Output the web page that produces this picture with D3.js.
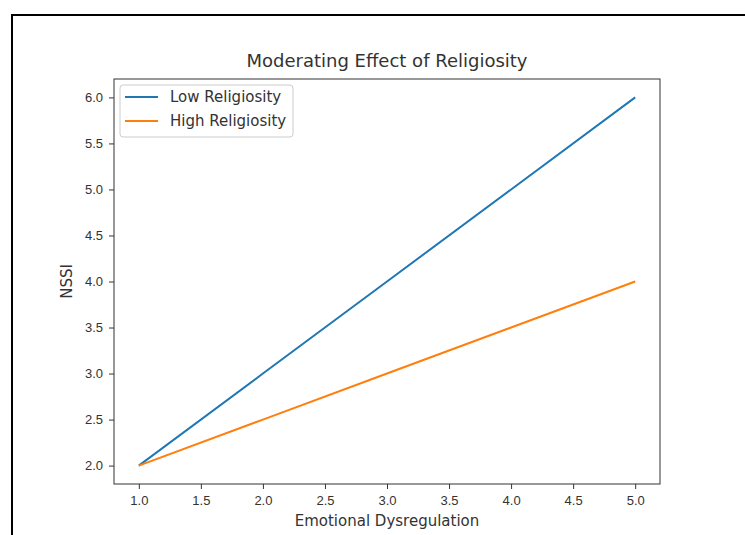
<!DOCTYPE html>
<html>
<head>
<meta charset="utf-8">
<script src="https://cdn.jsdelivr.net/npm/d3@7"></script>
<style>
  body { margin: 0; background: #fff; }
  svg { font-family: 'DejaVu Sans', sans-serif; display: block; }
  .tick text { font-size: 13px; fill: #333; }
  .tick line, .domain { stroke: #333; }
</style>
</head>
<body>
<svg width="745" height="535"></svg>
<script>
'use strict';

// chart values
const emotionalDysregulation = [1, 2, 3, 4, 5];
const lowReligiosity = [2, 3, 4, 5, 6];
const highReligiosity = [2, 2.5, 3, 3.5, 4];
const seriesNames = ['Low Religiosity', 'High Religiosity'];
const seriesColors = ['#1f77b4', '#ff7f0e'];
const xTicks = [1.0, 1.5, 2.0, 2.5, 3.0, 3.5, 4.0, 4.5, 5.0];
const yTicks = [2.0, 2.5, 3.0, 3.5, 4.0, 4.5, 5.0, 5.5, 6.0];

const svg = d3.select('svg');
const width = +svg.attr('width');
const height = +svg.attr('height');

// figure frame
svg.append('path')
    .attr('d', `M12,${height} V15 H${width}`)
    .attr('fill', 'none')
    .attr('stroke', '#000')
    .attr('stroke-width', 2);

const margin = { top: 79, right: 85, bottom: 51, left: 114 };
const innerWidth = width - margin.left - margin.right;
const innerHeight = height - margin.top - margin.bottom;

const xScale = d3.scaleLinear()
  .domain([0.8, 5.2])
  .range([0, innerWidth]);

const yScale = d3.scaleLinear()
  .domain([1.8, 6.2])
  .range([innerHeight, 0]);

const g = svg.append('g')
  .attr('transform', `translate(${margin.left},${margin.top})`);

const xAxisG = g.append('g')
  .attr('transform', `translate(0,${innerHeight})`)
  .call(d3.axisBottom(xScale).tickValues(xTicks).tickFormat(d3.format('.1f')).tickSize(5).tickPadding(7));
xAxisG.select('.domain').remove();

const yAxisG = g.append('g')
  .call(d3.axisLeft(yScale).tickValues(yTicks).tickFormat(d3.format('.1f')).tickSize(5).tickPadding(6));
yAxisG.select('.domain').remove();

const series = [lowReligiosity, highReligiosity];

const line = d3.line()
  .x((d, i) => xScale(emotionalDysregulation[i]))
  .y(d => yScale(d));

series.forEach((values, k) => {
  g.append('path')
      .datum(values)
      .attr('fill', 'none')
      .attr('stroke', seriesColors[k])
      .attr('stroke-width', 2)
      .attr('d', line);
});

// spines
g.append('rect')
    .attr('width', innerWidth)
    .attr('height', innerHeight)
    .attr('fill', 'none')
    .attr('stroke', '#333')
    .attr('stroke-width', 1);

// title and labels
g.append('text')
    .attr('x', innerWidth / 2)
    .attr('y', -12)
    .attr('text-anchor', 'middle')
    .attr('font-size', 18)
    .attr('fill', '#333')
    .text('Moderating Effect of Religiosity');

g.append('text')
    .attr('x', innerWidth / 2)
    .attr('y', innerHeight + 42)
    .attr('text-anchor', 'middle')
    .attr('font-size', 15)
    .attr('fill', '#333')
    .text('Emotional Dysregulation');

g.append('text')
    .attr('transform', 'rotate(-90)')
    .attr('x', -innerHeight / 2)
    .attr('y', -42)
    .attr('text-anchor', 'middle')
    .attr('font-size', 15)
    .attr('fill', '#333')
    .text('NSSI');

// legend
const legend = g.append('g')
  .attr('transform', 'translate(6,6)');

legend.append('rect')
    .attr('width', 173)
    .attr('height', 52)
    .attr('rx', 3)
    .attr('fill', '#fff')
    .attr('fill-opacity', 0.8)
    .attr('stroke', '#cccccc');

seriesNames.forEach((name, k) => {
  const row = legend.append('g')
    .attr('transform', `translate(0,${12 + k * 24})`);
  row.append('line')
      .attr('x1', 5)
      .attr('x2', 38)
      .attr('stroke', seriesColors[k])
      .attr('stroke-width', 2);
  row.append('text')
      .attr('x', 50)
      .attr('dy', '0.35em')
      .attr('font-size', 15)
      .attr('fill', '#333')
      .text(name);
});
</script>
</body>
</html>
